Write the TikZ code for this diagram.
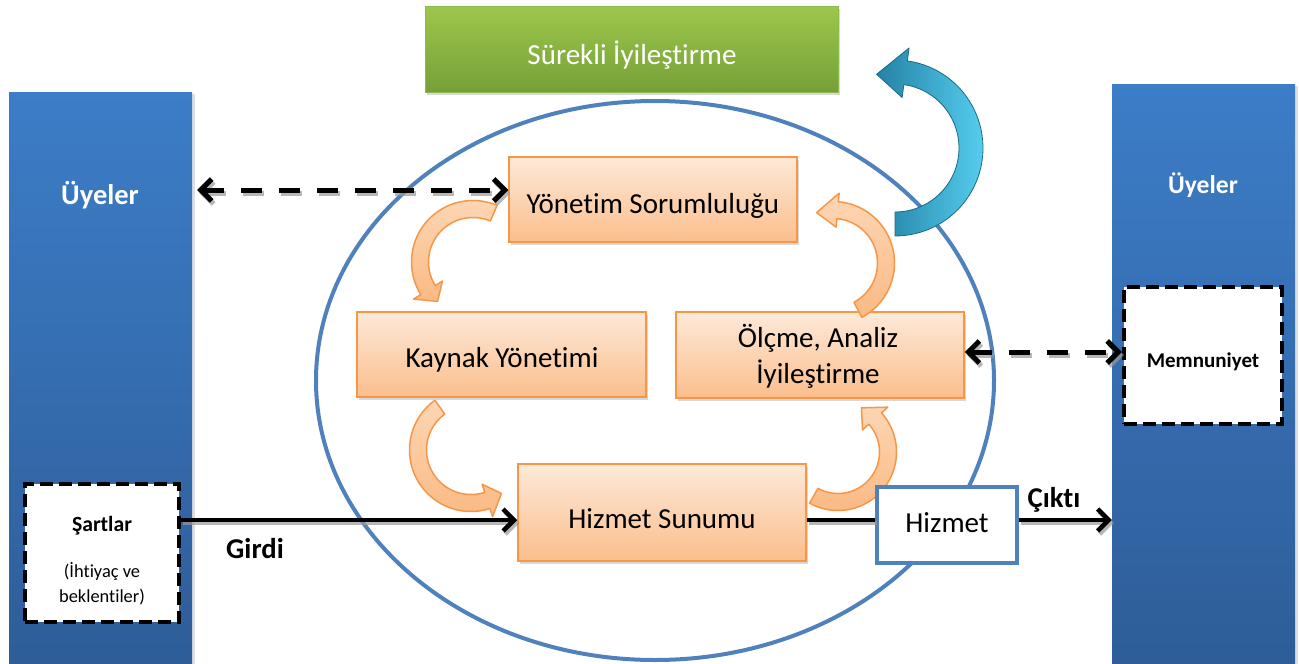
\documentclass[tikz,border=0pt]{standalone}
\usepackage{fontspec}
\setmainfont{Carlito}[Ligatures={NoCommon}]
\usetikzlibrary{arrows.meta,shapes.geometric,shadows}
\definecolor{blueA}{RGB}{60,125,200}
\definecolor{blueB}{RGB}{46,93,152}
\definecolor{greenA}{RGB}{157,199,75}
\definecolor{greenB}{RGB}{118,160,55}
\definecolor{greenLine}{RGB}{140,185,80}
\definecolor{orA}{RGB}{253,233,217}
\definecolor{orB}{RGB}{251,190,140}
\definecolor{orLine}{RGB}{247,150,70}
\definecolor{orArA}{RGB}{253,214,180}
\definecolor{orArB}{RGB}{250,186,132}
\definecolor{ellLine}{RGB}{79,129,189}
\definecolor{tealA}{RGB}{36,130,165}
\definecolor{tealB}{RGB}{85,205,238}
\definecolor{tealLine}{RGB}{28,105,135}
\newcommand{\circarrow}[9]{%
 \path[#9] plot[domain=0:1,samples=50,variable=\t]
   ({#1+(#3+#4)*cos((#5)+((#6)-(#5))*\t)},{#2+(#3+#4)*sin((#5)+((#6)-(#5))*\t)})
 -- ({#1+(#3+#8)*cos(#6)},{#2+(#3+#8)*sin(#6)})
 -- ({#1+(#3)*cos(#7)},{#2+(#3)*sin(#7)})
 -- ({#1+(#3-#8)*cos(#6)},{#2+(#3-#8)*sin(#6)})
 -- plot[domain=0:1,samples=50,variable=\t]
   ({#1+(#3-#4)*cos((#6)+((#5)-(#6))*\t)},{#2+(#3-#4)*sin((#6)+((#5)-(#6))*\t)})
 -- cycle;}
\begin{document}
\begin{tikzpicture}[x=1pt,y=-1pt,
 bluecol/.style={top color=blueA,bottom color=blueB,draw=none,inner sep=0pt,drop shadow={opacity=0.25,shadow xshift=3pt,shadow yshift=-2pt}},
 greenbox/.style={top color=greenA,bottom color=greenB,draw=greenLine,line width=1pt,inner sep=0pt,drop shadow={opacity=0.3,shadow xshift=2pt,shadow yshift=-3pt}},
 obox/.style={top color=orA,bottom color=orB,draw=orLine,line width=1.5pt,inner sep=0pt,drop shadow={opacity=0.3,shadow xshift=2pt,shadow yshift=-3pt}},
 dbox/.style={fill=white,draw=black,line width=4.5pt,dash pattern=on 13pt off 6pt,inner sep=0pt},
 hbox/.style={fill=white,draw=ellLine,line width=4pt,inner sep=0pt},
 txt/.style={font=\fontsize{29}{36}\selectfont,align=center,inner sep=0pt},
 wbold/.style={text=white,font=\bfseries\fontsize{28.5}{34}\selectfont,inner sep=0pt},
 lbl/.style={font=\bfseries\fontsize{28.7}{34}\selectfont,inner sep=0pt},
 oarr/.style={top color=orArA,bottom color=orArB,draw=orLine,line width=1.5pt,line join=round},
 barr/.style={left color=tealA,right color=tealB,draw=tealLine,line width=0.8pt,line join=round},
 blk/.style={line width=4.5pt,-{Straight Barb[length=11pt,width=22pt]}},
 bline/.style={line width=4.5pt},
 dsh/.style={line width=5pt,dash pattern=on 21pt off 17pt,{Straight Barb[length=11pt,width=22pt]}-{Straight Barb[length=11pt,width=22pt]}},
 shd/.style={draw=black!40,opacity=0.7,transform canvas={shift={(2pt,-3pt)}}}
]
\useasboundingbox (0,0) rectangle (1299,664);
\fill[white] (0,0) rectangle (1299,664);

% member columns
\node[bluecol,minimum width=183pt,minimum height=572pt] (memL) at (100.5,378) {};
\node[bluecol,minimum width=183pt,minimum height=580pt] (memR) at (1203.5,374) {};
\node[wbold] (uyL) at (100,195) {Üyeler};
\node[wbold,font=\bfseries\fontsize{25.6}{30}\selectfont] (uyR) at (1203,185) {Üyeler};

% continual improvement
\node[greenbox,minimum width=413pt,minimum height=86pt] (sur) at (631.5,49) {};
\node[txt,text=white] (surT) at (632,55) {Sürekli İyileştirme};

% big ellipse
\node[ellipse,draw=ellLine,line width=4pt,minimum width=678pt,minimum height=559pt,inner sep=0pt] (ell) at (655,380.5) {};

% process boxes
\node[obox,minimum width=288pt,minimum height=85pt] (yon) at (653,199.5) {};
\node[txt] (yonT) at (653,206) {Yönetim Sorumluluğu};
\node[obox,minimum width=289pt,minimum height=85pt] (kay) at (501.5,354.5) {};
\node[txt] (kayT) at (502,360) {Kaynak Yönetimi};
\node[obox,minimum width=288pt,minimum height=86pt] (olc) at (820,355) {};
\node[txt] (olcT) at (818,356) {Ölçme, Analiz\\İyileştirme};
\node[obox,minimum width=288pt,minimum height=97pt] (hiz) at (662,512.5) {};
\node[txt] (hizT) at (662,519) {Hizmet Sunumu};

% cycle arrows
\circarrow{473}{262}{53}{8.5}{-67}{-212}{-228}{17}{oarr}
\circarrow{471}{450}{53}{8.5}{234}{72}{55}{17}{oarr}
\circarrow{838}{452}{50}{8.5}{119}{-42}{-62}{17}{oarr}
\circarrow{833}{263}{53}{8.5}{62}{-85}{-108}{17}{oarr}

% dashed boxes
\node[dbox,minimum width=154pt,minimum height=138pt] (sart) at (102,553) {};
\node[lbl,font=\bfseries\fontsize{21.7}{26}\selectfont] (sartT) at (102,526) {Şartlar};
\node[font=\fontsize{18.4}{22}\selectfont,inner sep=0pt] (ihT) at (102,572) {(İhtiyaç ve};
\node[font=\fontsize{18.4}{22}\selectfont,inner sep=0pt] (bkT) at (102,597) {beklentiler)};
\node[dbox,minimum width=158pt,minimum height=137pt] (memn) at (1203,355.5) {};
\node[lbl,font=\bfseries\fontsize{21}{25}\selectfont] (memnT) at (1203,362) {Memnuniyet};

% output box
\node[hbox,minimum width=140pt,minimum height=76pt] (hzb) at (947,525) {};
\node[txt] (hzbT) at (947,522.5) {Hizmet};

% connectors
\coordinate (yw) at ([yshift=9.5pt]yon.west);
\coordinate (ow) at ([yshift=3pt]olc.east);
\coordinate (gin) at ([yshift=-7.5pt]hiz.west);
\draw[dsh,shd,shorten <=5pt] (memL.east |- yw) -- (yw);
\draw[dsh,shorten <=5pt] (memL.east |- yw) -- (yw);
\draw[dsh,shd] (ow) -- (memn.west |- ow);
\draw[dsh] (ow) -- (memn.west |- ow);
\draw[blk,shd] (sart.east |- gin) -- (gin);
\draw[blk] (sart.east |- gin) -- (gin);
\draw[bline,shd] (hiz.east |- gin) -- (hzb.west |- gin);
\draw[bline] (hiz.east |- gin) -- (hzb.west |- gin);
\draw[blk,shd] (hzb.east |- gin) -- (memR.west |- gin);
\draw[blk] (hzb.east |- gin) -- (memR.west |- gin);
\node[lbl] (girdi) at (255,548.5) {Girdi};
\node[lbl] (cikti) at (1054,500) {Çıktı};

% improvement arrow
\circarrow{895}{148}{76}{12}{90}{-82}{-104}{25}{barr}
\end{tikzpicture}
\end{document}
